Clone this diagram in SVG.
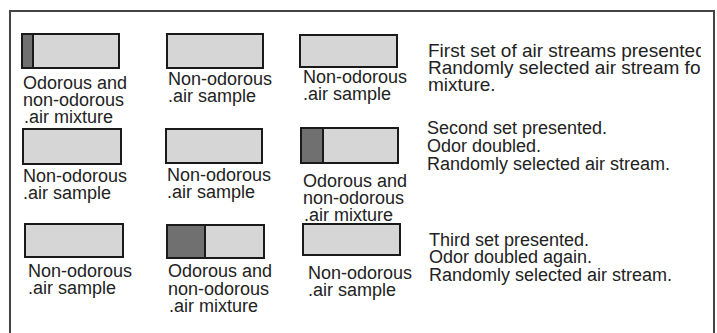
<svg xmlns="http://www.w3.org/2000/svg" width="717" height="333" viewBox="0 0 717 333">
<style>
.box{fill:#d6d6d6;stroke:#1a1a1a;stroke-width:2}
.odor{fill:#707070;stroke:#1a1a1a;stroke-width:2}
text{font-family:"Liberation Sans",Arial,sans-serif;font-size:18px;fill:#222}
.big{font-size:19px}
.frame{fill:none;stroke:#444;stroke-width:2}
</style>
<defs>
<clipPath id="clipR"><rect x="400" y="0" width="301" height="333"/></clipPath>
</defs>
<rect x="0" y="0" width="717" height="333" fill="#fff"/>
<path class="frame" d="M10,334 V11 H714 V334"/>

<g id="r1c1">
<rect class="box" x="22" y="34" width="97" height="34"/>
<rect class="odor" x="22" y="34" width="11" height="34"/>
<text x="23" y="89">Odorous and</text>
<text x="23" y="106">non-odorous</text>
<text x="24" y="123">.air mixture</text>
</g>
<g id="r1c2">
<rect class="box" x="167" y="34" width="96" height="34"/>
<text x="168" y="85">Non-odorous</text>
<text x="168" y="102">.air sample</text>
</g>
<g id="r1c3">
<rect class="box" x="300" y="35" width="97" height="32"/>
<text x="303" y="83">Non-odorous</text>
<text x="303" y="100">.air sample</text>
</g>
<g id="note1" clip-path="url(#clipR)">
<text class="big" x="428" y="57">First set of air streams presented.</text>
<text class="big" x="428" y="74">Randomly selected air stream for</text>
<text class="big" x="428" y="91">mixture.</text>
</g>

<g id="r2c1">
<rect class="box" x="23" y="129" width="98" height="35"/>
<text x="23" y="182">Non-odorous</text>
<text x="23" y="199">.air sample</text>
</g>
<g id="r2c2">
<rect class="box" x="166" y="129" width="96" height="34"/>
<text x="167" y="181">Non-odorous</text>
<text x="167" y="198">.air sample</text>
</g>
<g id="r2c3">
<rect class="box" x="301" y="128" width="97" height="35"/>
<rect class="odor" x="301" y="128" width="22" height="35"/>
<text x="303" y="187">Odorous and</text>
<text x="303" y="204">non-odorous</text>
<text x="304" y="221">.air mixture</text>
</g>
<g id="note2">
<text x="427" y="134">Second set presented.</text>
<text x="427" y="152">Odor doubled.</text>
<text x="427" y="170">Randomly selected air stream.</text>
</g>

<g id="r3c1">
<rect class="box" x="25" y="224" width="98" height="33"/>
<text x="28" y="277">Non-odorous</text>
<text x="28" y="294">.air sample</text>
</g>
<g id="r3c2">
<rect class="box" x="167" y="225" width="97" height="33"/>
<rect class="odor" x="167" y="225" width="38" height="33"/>
<text x="168" y="277">Odorous and</text>
<text x="168" y="294.5">non-odorous</text>
<text x="169" y="312">.air mixture</text>
</g>
<g id="r3c3">
<rect class="box" x="303" y="224" width="97" height="31"/>
<text x="308" y="279">Non-odorous</text>
<text x="308" y="296">.air sample</text>
</g>
<g id="note3">
<text x="429" y="246">Third set presented.</text>
<text x="429" y="263">Odor doubled again.</text>
<text x="429" y="281">Randomly selected air stream.</text>
</g>
<g id="connectors"/>
</svg>
